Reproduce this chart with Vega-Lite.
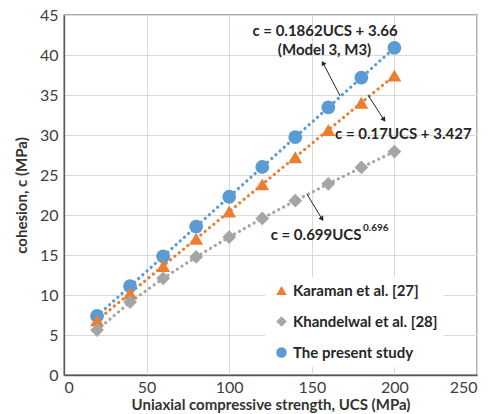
{
  "$schema": "https://vega.github.io/schema/vega-lite/v6.json",
  "width": 413,
  "height": 360,
  "autosize": {"type": "none"},
  "padding": {"left": 64, "top": 15, "right": 13, "bottom": 39},
  "background": "white",
  "config": {
    "font": "Lato",
    "view": {"stroke": "#595959", "strokeWidth": 1.3},
    "axis": {
      "domainColor": "#595959",
      "domainWidth": 1.3,
      "gridColor": "#D9D9D9",
      "gridWidth": 1,
      "ticks": false,
      "labelFont": "Lato",
      "labelFontSize": 16,
      "labelColor": "#404040",
      "labelOverlap": false,
      "titleFont": "Lato",
      "titleFontSize": 15,
      "titleFontWeight": "bold",
      "titleColor": "#333333"
    },
    "legend": {
      "labelFont": "Lato", "labelFontSize": 15, "labelFontWeight": "bold", "labelColor": "#262626"
    }
  },
  "datasets": {
    "pts": [
      {"series": "The present study", "ucs": 20, "c": 7.38},
      {"series": "The present study", "ucs": 40, "c": 11.1},
      {"series": "The present study", "ucs": 60, "c": 14.83},
      {"series": "The present study", "ucs": 80, "c": 18.56},
      {"series": "The present study", "ucs": 100, "c": 22.28},
      {"series": "The present study", "ucs": 120, "c": 26.0},
      {"series": "The present study", "ucs": 140, "c": 29.73},
      {"series": "The present study", "ucs": 160, "c": 33.45},
      {"series": "The present study", "ucs": 180, "c": 37.18},
      {"series": "The present study", "ucs": 200, "c": 40.9},
      {"series": "Karaman et al. [27]", "ucs": 20, "c": 6.83},
      {"series": "Karaman et al. [27]", "ucs": 40, "c": 10.23},
      {"series": "Karaman et al. [27]", "ucs": 60, "c": 13.63},
      {"series": "Karaman et al. [27]", "ucs": 80, "c": 17.03},
      {"series": "Karaman et al. [27]", "ucs": 100, "c": 20.43},
      {"series": "Karaman et al. [27]", "ucs": 120, "c": 23.83},
      {"series": "Karaman et al. [27]", "ucs": 140, "c": 27.23},
      {"series": "Karaman et al. [27]", "ucs": 160, "c": 30.63},
      {"series": "Karaman et al. [27]", "ucs": 180, "c": 34.03},
      {"series": "Karaman et al. [27]", "ucs": 200, "c": 37.43},
      {"series": "Khandelwal et al. [28]", "ucs": 20, "c": 5.62},
      {"series": "Khandelwal et al. [28]", "ucs": 40, "c": 9.11},
      {"series": "Khandelwal et al. [28]", "ucs": 60, "c": 12.08},
      {"series": "Khandelwal et al. [28]", "ucs": 80, "c": 14.76},
      {"series": "Khandelwal et al. [28]", "ucs": 100, "c": 17.24},
      {"series": "Khandelwal et al. [28]", "ucs": 120, "c": 19.57},
      {"series": "Khandelwal et al. [28]", "ucs": 140, "c": 21.79},
      {"series": "Khandelwal et al. [28]", "ucs": 160, "c": 23.9},
      {"series": "Khandelwal et al. [28]", "ucs": 180, "c": 25.94},
      {"series": "Khandelwal et al. [28]", "ucs": 200, "c": 27.93}
    ],
    "arrows": [
      {"id": "a1", "ucs": 167.1, "c": 34.9, "ucs2": 156.8, "c2": 39.0},
      {"id": "a2", "ucs": 184.0, "c": 35.0, "ucs2": 193.7, "c2": 31.9},
      {"id": "a3", "ucs": 147.1, "c": 22.6, "ucs2": 156.2, "c2": 19.5}
    ],
    "labels": [
      {"id": "t1", "ucs": 158.0, "c": 43.0, "text": "c = 0.1862UCS + 3.66"},
      {"id": "t1b", "ucs": 157.7, "c": 40.6, "text": "(Model 3, M3)"},
      {"id": "t2", "ucs": 205.4, "c": 30.1, "text": "c = 0.17UCS + 3.427"},
      {"id": "t3", "ucs": 180.1, "c": 17.5, "text": "c = 0.699UCS"}
    ],
    "sup": [
      {"ucs": 181.0, "c": 18.4, "text": "0.696"}
    ]
  },
  "encoding": {
    "x": {"field": "ucs", "type": "quantitative",
          "scale": {"domain": [0, 250], "nice": false},
          "axis": {"values": [0, 50, 100, 150, 200, 250], "title": "Uniaxial compressive strength, UCS (MPa)", "labelPadding": 4, "titlePadding": 2}},
    "y": {"field": "c", "type": "quantitative",
          "scale": {"domain": [0, 45], "nice": false},
          "axis": {"values": [0, 5, 10, 15, 20, 25, 30, 35, 40, 45], "title": "cohesion, c (MPa)", "labelPadding": 6, "titlePadding": 10}}
  },
  "layer": [
    {
      "data": {"name": "pts"},
      "mark": {"type": "line", "strokeDash": [0.1, 5.5], "strokeCap": "round", "strokeWidth": 3.2},
      "encoding": {
        "detail": {"field": "series"},
        "stroke": {"field": "series", "type": "nominal", "legend": null,
                   "scale": {"range": ["#ED7D31", "#A5A5A5", "#5B9BD5"]}}
      }
    },
    {
      "data": {"name": "pts"},
      "mark": {"type": "point", "filled": true, "opacity": 1, "size": 190},
      "encoding": {
        "color": {"field": "series", "type": "nominal", "title": null,
                  "scale": {"domain": ["Karaman et al. [27]", "Khandelwal et al. [28]", "The present study"], "range": ["#ED7D31", "#A5A5A5", "#5B9BD5"]},
                  "legend": {"orient": "none", "legendX": 201, "legendY": 262, "padding": 6, "fillColor": "white",
                             "symbolSize": 110, "symbolOffset": 3, "rowPadding": 15, "labelOffset": 4}},
        "shape": {"field": "series", "type": "nominal", "title": null,
                  "scale": {"domain": ["Karaman et al. [27]", "Khandelwal et al. [28]", "The present study"], "range": ["triangle-up", "diamond", "circle"]},
                  "legend": {"orient": "none", "legendX": 201, "legendY": 262, "padding": 6, "fillColor": "white",
                             "symbolSize": 110, "symbolOffset": 3, "rowPadding": 15, "labelOffset": 4}}
      }
    },
    {
      "data": {"name": "arrows"},
      "mark": {"type": "rule", "color": "#262626", "strokeWidth": 1},
      "encoding": {
        "x2": {"field": "ucs2"},
        "y2": {"field": "c2"}
      }
    },
    {
      "data": {"name": "arrows"},
      "transform": [{"filter": "datum.id == 'a1'"}],
      "mark": {"type": "point", "shape": "triangle-up", "filled": true, "color": "#262626", "opacity": 1, "size": 30, "angle": 333},
      "encoding": {"x": {"field": "ucs2", "type": "quantitative"}, "y": {"field": "c2", "type": "quantitative"}}
    },
    {
      "data": {"name": "arrows"},
      "transform": [{"filter": "datum.id == 'a2'"}],
      "mark": {"type": "point", "shape": "triangle-up", "filled": true, "color": "#262626", "opacity": 1, "size": 30, "angle": 147},
      "encoding": {"x": {"field": "ucs2", "type": "quantitative"}, "y": {"field": "c2", "type": "quantitative"}}
    },
    {
      "data": {"name": "arrows"},
      "transform": [{"filter": "datum.id == 'a3'"}],
      "mark": {"type": "point", "shape": "triangle-up", "filled": true, "color": "#262626", "opacity": 1, "size": 30, "angle": 149},
      "encoding": {"x": {"field": "ucs2", "type": "quantitative"}, "y": {"field": "c2", "type": "quantitative"}}
    },
    {
      "data": {"name": "labels"},
      "transform": [{"filter": "datum.id != 't3'"}],
      "mark": {"type": "text", "font": "Lato", "fontSize": 15, "fontWeight": "bold", "color": "#262626", "align": "center", "baseline": "middle"},
      "encoding": {"text": {"field": "text"}}
    },
    {
      "data": {"name": "labels"},
      "transform": [{"filter": "datum.id == 't3'"}],
      "mark": {"type": "text", "font": "Lato", "fontSize": 15, "fontWeight": "bold", "color": "#262626", "align": "right", "baseline": "middle"},
      "encoding": {"text": {"field": "text"}}
    },
    {
      "data": {"name": "sup"},
      "mark": {"type": "text", "font": "Lato", "fontSize": 10, "fontWeight": "bold", "color": "#262626", "align": "left", "baseline": "middle"},
      "encoding": {"text": {"field": "text"}}
    }
  ]
}
